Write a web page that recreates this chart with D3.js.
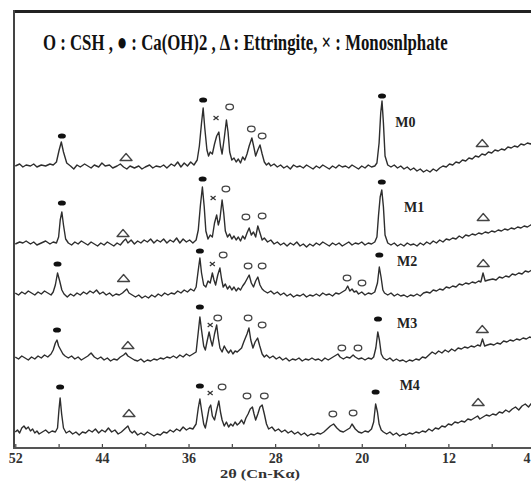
<!DOCTYPE html>
<html><head><meta charset="utf-8">
<script src="https://cdn.jsdelivr.net/npm/d3@7/dist/d3.min.js"></script>
<style>html,body{margin:0;padding:0;background:#fff;}svg{display:block;}</style>
</head><body>
<svg id="c" width="531" height="481"></svg>
<script>
// ---- data (2θ in degrees, intensity in a.u. above each pattern's own baseline) ----
const seriesNames = ["M0","M1","M2","M3","M4"];
const seriesOffsets = [280, 203, 153, 88, 14];
const tickValues = [52,48,44,40,36,32,28,24,20,16,12,8,4];
const tickLabels = ["52","","44","","36","","28","","20","","12","","4"];
const legendText = "O : CSH , \u25CF : Ca(OH)2 , \u0394 : Ettringite, \u00D7 : Monosnlphate";
const axisTitle = "2\u03B8 (Cn-K\u03B1)";

const M0 = [[52,2],[51.6,4],[51.3,1],[51,3],[50.6,2],[50.3,4],[50,1],[49.6,3],[49.2,2],[48.8,4],[48.5,3],[48.2,6],[47.95,18],[47.75,26],[47.55,16],[47.25,5],[46.9,2],[46.6,-1],[46.3,3],[46,1],[45.6,4],[45.3,2],[45,0],[44.7,3],[44.3,1],[44,5],[43.7,2],[43.3,3],[43,0],[42.6,2],[42.3,4],[42,1],[41.7,-1],[41.4,2],[41,0],[40.6,2],[40.3,-1],[40,1],[39.6,3],[39.3,0],[39,2],[38.6,1],[38.3,3],[38,0],[37.6,4],[37.3,2],[37,6],[36.7,1],[36.4,5],[36.1,2],[35.8,6],[35.5,3],[35.2,8],[35,22],[34.8,45],[34.65,60],[34.5,40],[34.3,18],[34.15,12],[34,16],[33.8,14],[33.6,24],[33.4,32],[33.2,36],[33.05,22],[32.9,14],[32.7,30],[32.5,48],[32.35,36],[32.2,16],[32,8],[31.8,10],[31.6,6],[31.4,9],[31.2,5],[31,11],[30.8,8],[30.6,14],[30.4,22],[30.15,30],[29.95,20],[29.8,12],[29.6,18],[29.4,23],[29.2,14],[29,6],[28.8,3],[28.6,5],[28.4,2],[28.1,4],[27.8,1],[27.5,3],[27.2,0],[26.9,2],[26.6,-1],[26.3,3],[26,1],[25.7,2],[25.4,0],[25.1,3],[24.8,1],[24.5,-1],[24.2,2],[23.9,0],[23.6,3],[23.3,1],[23,-1],[22.7,2],[22.4,0],[22.1,3],[21.8,1],[21.5,2],[21.2,0],[20.9,3],[20.6,1],[20.3,-1],[20,2],[19.7,0],[19.4,3],[19.1,1],[18.8,2],[18.6,5],[18.4,25],[18.25,55],[18.13,67],[18,45],[17.85,12],[17.6,3],[17.3,1],[17,3],[16.7,0],[16.4,2],[16.1,-1],[15.8,1],[15.5,-2],[15.2,0],[14.9,-3],[14.6,-1],[14.3,-4],[14,-2],[13.7,-4],[13.4,-1],[13.1,-3],[12.8,0],[12.5,2],[12.2,1],[11.9,4],[11.6,3],[11.3,6],[11,5],[10.7,8],[10.4,7],[10.1,10],[9.8,9],[9.5,12],[9.2,11],[8.9,14],[8.6,13],[8.3,16],[8,15],[7.7,18],[7.4,17],[7.1,19],[6.8,18],[6.5,21],[6.2,20],[5.9,22],[5.6,21],[5.3,24],[5,23],[4.7,25],[4.4,24],[4.1,27],[3.9,26]];

const M1 = [[52,1],[51.6,3],[51.3,2],[51,4],[50.6,1],[50.3,3],[50,0],[49.6,2],[49.2,4],[48.8,1],[48.5,3],[48.2,2],[48,8],[47.85,25],[47.7,33],[47.55,20],[47.35,6],[47.1,2],[46.8,0],[46.5,3],[46.2,1],[45.9,4],[45.6,2],[45.3,0],[45,3],[44.7,1],[44.4,-1],[44.1,2],[43.8,0],[43.5,3],[43.2,1],[42.9,-1],[42.6,2],[42.3,0],[42,4],[41.8,6],[41.6,2],[41.3,5],[41,1],[40.7,4],[40.4,2],[40.1,5],[39.8,3],[39.5,6],[39.2,2],[38.9,5],[38.6,3],[38.3,6],[38,2],[37.7,5],[37.4,3],[37.1,7],[36.8,2],[36.5,6],[36.2,3],[35.9,5],[35.6,2],[35.3,5],[35.1,15],[34.9,40],[34.72,58],[34.55,38],[34.4,14],[34.2,6],[34,10],[33.8,8],[33.6,22],[33.4,30],[33.25,20],[33.1,26],[32.9,45],[32.75,32],[32.6,14],[32.4,8],[32.2,11],[32,6],[31.8,9],[31.6,5],[31.4,8],[31.2,4],[31,9],[30.8,6],[30.6,12],[30.4,17],[30.2,10],[30,13],[29.8,8],[29.6,19],[29.4,12],[29.2,5],[29,7],[28.7,3],[28.4,5],[28.1,1],[27.8,3],[27.5,0],[27.2,2],[26.9,-1],[26.6,2],[26.3,0],[26,3],[25.7,-1],[25.4,1],[25.1,-2],[24.8,1],[24.5,-1],[24.2,2],[23.9,0],[23.6,3],[23.3,1],[23,-1],[22.7,2],[22.4,0],[22.1,2],[21.8,-1],[21.5,1],[21.2,3],[20.9,0],[20.6,2],[20.3,1],[20,3],[19.7,0],[19.4,2],[19.1,1],[18.8,3],[18.6,8],[18.45,30],[18.3,48],[18.15,55],[18,38],[17.85,10],[17.6,2],[17.3,0],[17,2],[16.7,-1],[16.4,1],[16.1,-1],[15.8,2],[15.5,0],[15.2,1],[14.9,-1],[14.6,2],[14.3,0],[14,3],[13.7,1],[13.4,4],[13.1,2],[12.8,5],[12.5,3],[12.2,6],[11.9,5],[11.6,7],[11.3,6],[11,9],[10.7,7],[10.4,10],[10.1,9],[9.8,11],[9.5,10],[9.2,12],[8.9,11],[8.6,13],[8.3,12],[8,14],[7.7,13],[7.4,15],[7.1,14],[6.8,16],[6.5,15],[6.2,17],[5.9,16],[5.6,18],[5.3,17],[5,19],[4.7,18],[4.4,20],[4.1,21],[3.9,22]];

const M2 = [[52,2],[51.7,0],[51.4,3],[51.1,1],[50.8,4],[50.5,2],[50.2,0],[49.9,3],[49.6,1],[49.3,4],[49,2],[48.7,0],[48.5,3],[48.3,10],[48.1,22],[47.9,14],[47.7,5],[47.5,1],[47.2,-2],[46.9,1],[46.6,-1],[46.3,2],[46,0],[45.7,3],[45.4,1],[45.1,4],[44.8,2],[44.5,5],[44.2,1],[43.9,3],[43.6,0],[43.3,2],[43,-1],[42.7,1],[42.4,0],[42.1,2],[41.9,4],[41.7,6],[41.5,2],[41.2,0],[40.9,-2],[40.6,0],[40.3,-3],[40,-1],[39.7,-3],[39.4,0],[39.1,-2],[38.8,1],[38.5,-1],[38.2,2],[37.9,0],[37.6,2],[37.3,1],[37,4],[36.7,2],[36.4,5],[36.1,3],[35.8,6],[35.5,4],[35.3,8],[35.1,25],[34.95,37],[34.8,22],[34.6,10],[34.4,8],[34.2,14],[34,12],[33.8,22],[33.65,15],[33.5,10],[33.3,20],[33.1,27],[32.95,16],[32.8,8],[32.6,11],[32.4,6],[32.2,9],[32,5],[31.8,8],[31.6,4],[31.4,7],[31.2,5],[31,9],[30.8,12],[30.6,16],[30.4,20],[30.2,12],[30,8],[29.8,14],[29.6,18],[29.4,10],[29.2,6],[29,4],[28.7,2],[28.4,4],[28.1,1],[27.8,3],[27.5,0],[27.2,2],[26.9,-1],[26.6,1],[26.3,-2],[26,0],[25.7,-1],[25.4,1],[25.1,-2],[24.8,0],[24.5,-1],[24.2,1],[23.9,-1],[23.6,2],[23.3,0],[23,1],[22.7,-1],[22.4,2],[22.1,1],[21.8,3],[21.5,5],[21.3,9],[21.1,4],[20.9,6],[20.7,3],[20.5,4],[20.3,1],[20,3],[19.7,0],[19.4,2],[19.1,1],[18.8,3],[18.55,12],[18.38,28],[18.22,18],[18.05,5],[17.9,2],[17.6,0],[17.3,2],[17,-1],[16.7,1],[16.4,-1],[16.1,0],[15.8,-2],[15.5,0],[15.2,-1],[14.9,1],[14.6,-1],[14.3,2],[14,3],[13.7,2],[13.4,5],[13.1,4],[12.8,6],[12.5,5],[12.2,8],[11.9,7],[11.6,9],[11.3,8],[11,11],[10.7,10],[10.4,12],[10.1,11],[9.8,13],[9.5,12],[9.2,14],[9,13],[8.8,22],[8.6,14],[8.3,15],[7.9,16],[7.6,15],[7.3,18],[7,17],[6.7,19],[6.4,18],[6.1,21],[5.8,20],[5.5,22],[5.2,21],[4.9,24],[4.6,23],[4.3,25],[4.1,26],[3.9,27]];

const M3 = [[52,3],[51.7,1],[51.4,4],[51.1,2],[50.8,0],[50.5,3],[50.2,1],[49.9,4],[49.6,2],[49.3,5],[49,3],[48.7,6],[48.5,10],[48.3,17],[48.15,20],[48,14],[47.8,10],[47.6,6],[47.4,4],[47.1,2],[46.8,4],[46.5,1],[46.2,3],[45.9,0],[45.6,2],[45.3,4],[45,7],[44.7,3],[44.4,1],[44.1,3],[43.8,0],[43.5,2],[43.2,-1],[42.9,1],[42.6,0],[42.3,3],[42,5],[41.8,7],[41.6,4],[41.3,2],[41,0],[40.7,-1],[40.4,1],[40.1,-2],[39.8,0],[39.5,-1],[39.2,1],[38.9,0],[38.6,2],[38.3,1],[38,3],[37.7,2],[37.4,4],[37.1,2],[36.8,5],[36.5,3],[36.2,6],[35.9,4],[35.6,6],[35.3,8],[35.1,28],[34.95,43],[34.8,30],[34.6,14],[34.45,10],[34.3,18],[34.1,28],[33.95,20],[33.8,14],[33.6,26],[33.4,35],[33.25,22],[33.1,12],[32.9,8],[32.7,14],[32.5,10],[32.3,7],[32.1,10],[31.9,6],[31.7,9],[31.5,8],[31.3,10],[31.1,12],[30.9,18],[30.6,26],[30.42,32],[30.25,20],[30.05,12],[29.85,18],[29.62,22],[29.42,14],[29.2,6],[29,3],[28.8,5],[28.5,2],[28.2,4],[27.9,1],[27.6,3],[27.3,0],[27,2],[26.7,-1],[26.4,1],[26.1,0],[25.8,2],[25.5,-1],[25.2,1],[24.9,0],[24.6,2],[24.3,0],[24,1],[23.7,-1],[23.4,2],[23.1,0],[22.8,2],[22.5,4],[22.2,6],[22,3],[21.7,1],[21.4,3],[21.1,2],[20.8,5],[20.6,3],[20.3,1],[20,2],[19.7,0],[19.4,2],[19.1,1],[18.9,3],[18.7,12],[18.52,28],[18.37,20],[18.2,6],[18,2],[17.7,0],[17.4,2],[17.1,-1],[16.8,1],[16.5,-1],[16.2,0],[15.9,-2],[15.6,0],[15.3,-1],[15,1],[14.7,0],[14.4,3],[14.1,2],[13.8,5],[13.5,8],[13.2,6],[12.9,9],[12.6,7],[12.3,10],[12,8],[11.7,11],[11.4,9],[11.1,12],[10.8,11],[10.5,13],[10.2,12],[9.9,14],[9.6,13],[9.3,15],[9.05,14],[8.85,21],[8.65,14],[8.4,15],[8.1,16],[7.8,15],[7.5,17],[7.2,16],[6.9,19],[6.6,18],[6.3,20],[6,19],[5.7,21],[5.4,20],[5.1,22],[4.8,21],[4.5,23],[4.2,22],[3.9,25]];

const M4 = [[52,2],[51.8,4],[51.6,1],[51.4,6],[51.2,8],[51,5],[50.8,7],[50.6,3],[50.4,5],[50.2,1],[50,3],[49.8,0],[49.5,2],[49.2,4],[48.9,1],[48.6,3],[48.3,2],[48.1,6],[47.97,24],[47.86,36],[47.72,20],[47.55,6],[47.3,1],[47,3],[46.7,0],[46.4,2],[46.1,-1],[45.8,2],[45.5,1],[45.2,4],[44.9,2],[44.6,5],[44.3,1],[44,4],[43.7,2],[43.4,6],[43.1,2],[42.8,4],[42.5,0],[42.2,2],[42,4],[41.6,8],[41.4,3],[41.2,1],[41,3],[40.7,-1],[40.4,1],[40.1,-1],[39.8,2],[39.5,0],[39.2,-2],[38.9,0],[38.6,-1],[38.3,2],[38,1],[37.7,4],[37.4,2],[37.1,5],[36.8,3],[36.5,7],[36.2,4],[35.9,6],[35.6,5],[35.3,10],[35.1,26],[34.95,35],[34.8,24],[34.6,10],[34.45,6],[34.3,14],[34.1,26],[33.95,29],[33.8,18],[33.6,14],[33.4,24],[33.2,33],[33.05,22],[32.9,14],[32.7,8],[32.5,12],[32.3,7],[32.1,10],[31.9,8],[31.7,12],[31.5,9],[31.3,11],[31.1,14],[30.9,10],[30.7,16],[30.5,20],[30.3,25],[30.1,27],[29.95,20],[29.8,14],[29.6,20],[29.4,27],[29.2,29],[29,20],[28.8,10],[28.6,5],[28.3,7],[28,3],[27.7,5],[27.4,2],[27.1,4],[26.8,1],[26.5,3],[26.2,0],[25.9,2],[25.6,-1],[25.3,1],[25,-2],[24.7,0],[24.4,-1],[24.1,1],[23.8,0],[23.5,2],[23.2,5],[22.9,8],[22.6,10],[22.3,6],[22,3],[21.7,2],[21.4,4],[21.1,6],[20.9,10],[20.6,5],[20.3,2],[20,1],[19.7,3],[19.4,2],[19.1,5],[18.9,12],[18.72,30],[18.55,22],[18.4,10],[18.2,4],[18,2],[17.7,0],[17.4,2],[17.1,-1],[16.8,1],[16.5,-2],[16.2,0],[15.9,-1],[15.6,1],[15.3,0],[15,2],[14.7,1],[14.4,3],[14.1,2],[13.8,5],[13.5,3],[13.2,6],[12.9,5],[12.6,8],[12.3,7],[12,10],[11.7,9],[11.4,12],[11.1,11],[10.8,13],[10.5,12],[10.2,15],[9.9,14],[9.6,16],[9.3,18],[9.1,15],[8.8,17],[8.5,19],[8.2,18],[7.9,20],[7.6,19],[7.3,22],[7,21],[6.7,24],[6.4,22],[6.1,25],[5.8,27],[5.5,24],[5.2,28],[4.9,30],[4.6,27],[4.3,31],[3.9,30]];

const patterns = [M0, M1, M2, M3, M4];

// phase markers: [series index, 2θ, height above baseline]
const chMarks = [[0,47.7,32],[0,34.65,68],[0,18.13,72],[1,47.7,42],[1,34.7,66],[1,18.15,63],[2,48.1,31],[2,34.95,44],[2,18.38,40],[3,48.15,30],[3,34.95,53],[3,18.5,41],[4,47.86,47],[4,34.95,48],[4,18.72,42]];
const cshMarks = [[0,32.2,61],[0,30.2,39],[0,29.2,32],[1,32.55,56],[1,30.7,28],[1,29.2,29],[2,32.8,40],[2,30.5,29],[2,29.2,29],[2,21.36,17],[2,19.98,12],[3,33.3,42],[3,30.5,42],[3,29.2,35],[3,21.84,12],[3,20.35,12],[4,32.9,47],[4,30.6,38],[4,29.0,38],[4,22.67,20],[4,20.8,21]];
const ettMarks = [[0,41.77,11],[0,8.87,25],[1,42.05,12],[1,8.78,28],[2,42.0,17],[2,8.78,32],[3,41.6,15],[3,8.87,31],[4,41.5,21],[4,9.25,32]];
const msMarks = [[0,33.46,50],[1,33.73,47],[2,33.8,31],[3,34.0,35],[4,34.0,41]];
const labelPos = [[16.9,41],[16.1,33],[16.75,29],[16.75,32],[16.5,44]];

// ---- drawing ----
const svg = d3.select("#c");
const x = d3.scaleLinear().domain([52, 4]).range([15.3, 535]);
const y = d3.scaleLinear().domain([0, 437]).range([448, 11]);
const Y = (s, h) => y(seriesOffsets[s] + h);
const serif = "'Liberation Serif','DejaVu Serif',serif";

svg.append("rect").attr("width",531).attr("height",481).attr("fill","#fff");
svg.append("defs").append("clipPath").attr("id","clip")
  .append("rect").attr("x",15).attr("y",12).attr("width",530).attr("height",436);

// frame
svg.append("line").attr("x1",13).attr("x2",531).attr("y1",11.5).attr("y2",11.5)
  .attr("stroke","#222").attr("stroke-width",3);
svg.append("line").attr("x1",14).attr("x2",14).attr("y1",10).attr("y2",449)
  .attr("stroke","#444").attr("stroke-width",2);

// legend text (condensed by horizontal scaling to the reference width)
const legG = svg.append("g");
const leg = legG.append("text").attr("x",0).attr("y",0)
  .attr("font-family",serif).attr("font-weight","bold")
  .attr("font-size",24).attr("fill","#111").text(legendText);
const natW = leg.node().getComputedTextLength();
legG.attr("transform", `translate(43,50) scale(${405/natW},1)`);

// x axis
const axis = d3.axisBottom(x).tickValues(tickValues).tickSize(-4).tickPadding(5)
  .tickFormat((d,i) => tickLabels[i]);
const gA = svg.append("g").attr("transform","translate(0,448)").call(axis);
gA.select(".domain").remove();
gA.selectAll(".tick line").attr("stroke","#444").attr("stroke-width",1.2);
gA.selectAll(".tick text").attr("font-family",serif)
  .attr("font-weight","bold").attr("font-size",14).attr("fill","#333")
  .filter(d => d === 4).attr("text-anchor","end").attr("dx", -5);
svg.append("line").attr("x1",13).attr("x2",531).attr("y1",448).attr("y2",448)
  .attr("stroke","#555").attr("stroke-width",2);
svg.append("text").attr("x",260).attr("y",478).attr("text-anchor","middle")
  .attr("textLength",80).attr("lengthAdjust","spacingAndGlyphs")
  .attr("font-family",serif).attr("font-weight","bold")
  .attr("font-size",13).attr("fill","#333").text(axisTitle);

// patterns
const plot = svg.append("g").attr("clip-path","url(#clip)");
const line = d3.line();
patterns.forEach((p, s) => {
  plot.append("path")
    .attr("d", line(p.map(d => [x(d[0]), Y(s, d[1])])))
    .attr("fill","none").attr("stroke","#2e2e2e").attr("stroke-width",1.4)
    .attr("stroke-linejoin","round");
});

// markers
plot.selectAll(".ch").data(chMarks).join("ellipse")
  .attr("cx", d => x(d[1])).attr("cy", d => Y(d[0], d[2]))
  .attr("rx",4).attr("ry",2.6).attr("fill","#111");
plot.selectAll(".csh").data(cshMarks).join("ellipse")
  .attr("cx", d => x(d[1])).attr("cy", d => Y(d[0], d[2]))
  .attr("rx",3.8).attr("ry",2.8).attr("fill","none").attr("stroke","#444").attr("stroke-width",1.3);
plot.selectAll(".ett").data(ettMarks).join("path")
  .attr("d", d => { const cx = x(d[1]), cy = Y(d[0], d[2]);
    return `M${cx-6},${cy+3.5}L${cx},${cy-3.5}L${cx+6},${cy+3.5}Z`; })
  .attr("fill","none").attr("stroke","#444").attr("stroke-width",1.3).attr("stroke-linejoin","round");
plot.selectAll(".ms").data(msMarks).join("path")
  .attr("d", d => { const cx = x(d[1]), cy = Y(d[0], d[2]);
    return `M${cx-2.5},${cy-2}L${cx+2.5},${cy+2}M${cx-2.5},${cy+2}L${cx+2.5},${cy-2}`; })
  .attr("stroke","#333").attr("stroke-width",1.2);

// series labels
svg.selectAll(".lab").data(seriesNames).join("text")
  .attr("x", (d,i) => x(labelPos[i][0])).attr("y", (d,i) => Y(i, labelPos[i][1]))
  .attr("font-family",serif).attr("font-weight","bold")
  .attr("font-size",14).attr("fill","#222").text(d => d);
</script>
</body></html>
